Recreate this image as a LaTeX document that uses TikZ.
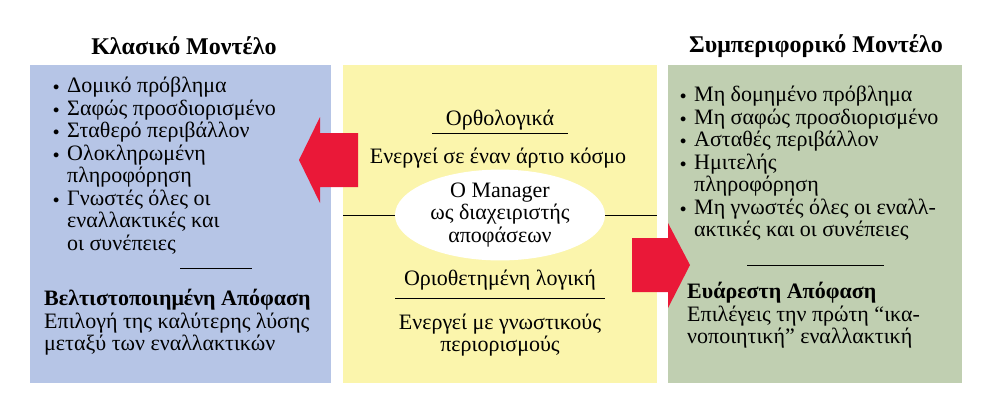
\documentclass[tikz,border=0pt]{standalone}
\usepackage{fontspec}
\setmainfont{Liberation Serif}
\usetikzlibrary{shapes.geometric}
\definecolor{cblue}{RGB}{182,197,230}
\definecolor{cyel}{RGB}{251,245,172}
\definecolor{cgreen}{RGB}{192,207,177}
\definecolor{cred}{RGB}{234,24,56}
\newcommand{\bul}{\makebox[14pt][l]{\raisebox{2pt}{\scalebox{0.6}{$\bullet$}}}}
\newcommand{\ind}{\hspace*{14pt}}
\tikzset{
  txt/.style={font=\fontsize{22}{22.5}\selectfont, inner sep=0pt},
  ttl/.style={font=\fontsize{24}{28}\selectfont\bfseries, inner sep=0pt},
  rule/.style={line width=1pt},
  bigarrow/.style={fill=cred, draw=none}
}
\begin{document}
\begin{tikzpicture}[x=1pt,y=-1pt]
\useasboundingbox (0,0) rectangle (999,418);
\fill[cblue] (30,65) rectangle (331,383);
\fill[cyel] (343,65) rectangle (657,383);
\fill[cgreen] (668,65) rectangle (962,383);
\node[ttl] (t1) at (184,46) {Κλασικό Μοντέλο};
\node[ttl] (t2) at (816,46) {Συμπεριφορικό Μοντέλο};
% left list
\node[txt, anchor=north west, align=left] (l1) at (53,77) {\bul Δομικό πρόβλημα\\ \bul Σαφώς προσδιορισμένο\\ \bul Σταθερό περιβάλλον\\ \bul Ολοκληρωμένη\\ \ind πληροφόρηση\\ \bul Γνωστές όλες οι\\ \ind εναλλακτικές και\\ \ind οι συνέπειες};
\coordinate (la) at (180,268); \coordinate (lb) at (252,268);
\draw[rule] (la) -- (lb);
\node[txt, anchor=north west, align=left] (l2) at (44,289) {\textbf{Βελτιστοποιημένη Απόφαση}\\ Επιλογή της καλύτερης λύσης\\ μεταξύ των εναλλακτικών};
% right list
\node[txt, anchor=north west, align=left] (r1) at (680,86) {\bul Μη δομημένο πρόβλημα\\ \bul Μη σαφώς προσδιορισμένο\\ \bul Ασταθές περιβάλλον\\ \bul Ημιτελής\\ \ind πληροφόρηση\\ \bul Μη γνωστές όλες οι εναλλ-\\ \ind ακτικές και οι συνέπειες};
\coordinate (ra) at (747,265); \coordinate (rb) at (884,265);
\draw[rule] (ra) -- (rb);
\node[txt, anchor=north west, align=left] (r2) at (687,282) {\textbf{Ευάρεστη Απόφαση}\\ Επιλέγεις την πρώτη “ικα-\\ νοποιητική” εναλλακτική};
% middle
\coordinate (ml) at (343,215); \coordinate (mr) at (657,215);
\draw[rule] (ml) -- (mr);
\node[ellipse, fill=white, minimum width=210pt, minimum height=72pt, inner sep=0pt, align=center, txt] (mgr) at (500,215) {O Manager\\ ως διαχειριστής\\ αποφάσεων};
\node[txt] (o1) at (500,120) {Ορθολογικά};
\coordinate (o1a) at (432,133); \coordinate (o1b) at (568,133);
\draw[rule] (o1a) -- (o1b);
\node[txt] (o2) at (498,158) {Ενεργεί σε έναν άρτιο κόσμο};
\node[txt] (b1) at (500,280) {Οριοθετημένη λογική};
\coordinate (b1a) at (395,298); \coordinate (b1b) at (605,298);
\draw[rule] (b1a) -- (b1b);
\node[txt, align=center] (b2) at (500,335) {Ενεργεί με γνωστικούς\\ περιορισμούς};
% arrows
\fill[bigarrow] (358,133) -- (320,133) -- (320,117) -- (299,160) -- (320,203) -- (320,187) -- (358,187) -- cycle;
\fill[bigarrow] (632,238) -- (668,238) -- (668,223) -- (690,265) -- (668,308) -- (668,292) -- (632,292) -- cycle;
\end{tikzpicture}
\end{document}
